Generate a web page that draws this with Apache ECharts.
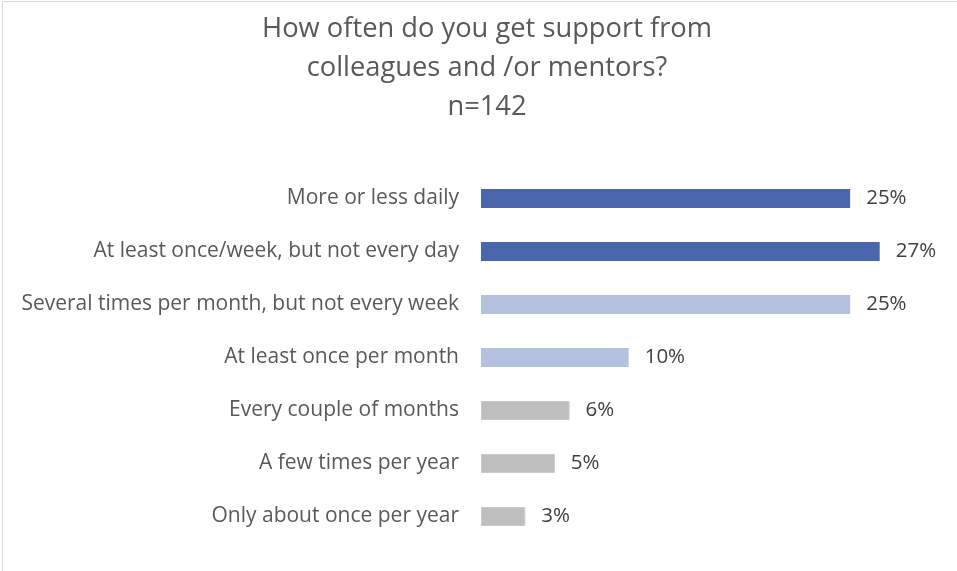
<!DOCTYPE html>
<html>
<head>
<meta charset="utf-8">
<script src="https://cdn.jsdelivr.net/npm/echarts@6/dist/echarts.min.js"></script>
<style>
  html, body { margin: 0; padding: 0; background: #ffffff; }
  #chart { position: absolute; left: 0; top: 0; width: 957px; height: 571px; }
  #frame { position: absolute; left: 2px; top: 1px; width: 955px; height: 570px;
           border-top: 1px solid #d9d9d9; border-left: 1px solid #d9d9d9; pointer-events: none; }
</style>
</head>
<body>
<div id="chart"></div>
<div id="frame"></div>
<script>
// Survey answers, top to bottom
const categories = [
  'More or less daily',
  'At least once/week, but not every day',
  'Several times per month, but not every week',
  'At least once per month',
  'Every couple of months',
  'A few times per year',
  'Only about once per year'
];
// Share of respondents (%)
const shares = [25, 27, 25, 10, 6, 5, 3];
// Frequency group of each answer: 0 = weekly or more, 1 = monthly, 2 = rarer
const groups = [0, 0, 1, 1, 2, 2, 2];
const groupColors = ['#4a66ad', '#b4c2e0', '#bfbfbf'];

const FONT = '"Open Sans", "Noto Sans", sans-serif';

const chart = echarts.init(document.getElementById('chart'), null, { renderer: 'canvas' });

chart.setOption({
  animation: false,
  backgroundColor: '#ffffff',
  title: {
    text: 'How often do you get support from\ncolleagues and /or mentors?\nn=142',
    left: 482,
    textAlign: 'center',
    top: 5,
    textStyle: {
      fontFamily: FONT,
      fontSize: 27.3,
      fontWeight: 'normal',
      color: '#595959',
      lineHeight: 39
    }
  },
  grid: { left: 481, right: 33, top: 172, bottom: 28, containLabel: false },
  xAxis: {
    type: 'value',
    min: 0,
    max: 30,
    show: false
  },
  yAxis: {
    type: 'category',
    inverse: true,
    data: categories,
    axisLine: { show: false },
    axisTick: { show: false },
    axisLabel: {
      margin: 22,
      padding: [3, 0, 0, 0],
      fontFamily: FONT,
      fontSize: 21,
      color: '#595959'
    }
  },
  series: [{
    type: 'bar',
    barWidth: 19,
    data: shares.map((v, i) => ({
      value: v,
      itemStyle: {
        color: groupColors[groups[i]],
        borderColor: groups[i] === 2 ? '#c9c9c9' : groupColors[groups[i]],
        borderWidth: groups[i] === 2 ? 1 : 0
      }
    })),
    label: {
      show: true,
      position: 'right',
      distance: 16,
      padding: [5, 0, 0, 0],
      formatter: '{c}%',
      fontFamily: FONT,
      fontSize: 20.5,
      color: '#404040'
    }
  }]
});
</script>
</body>
</html>
